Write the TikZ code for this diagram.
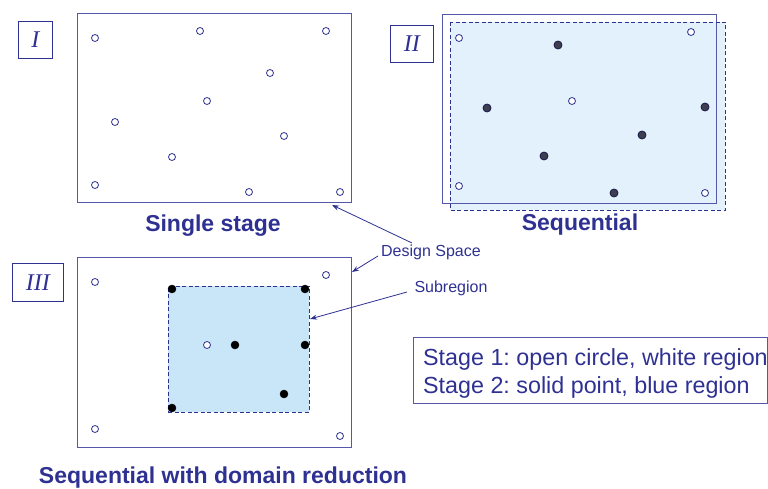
\documentclass[tikz,border=0pt]{standalone}
\usepackage{fontspec}
\setmainfont{Liberation Sans}
\newfontfamily\romfont{Liberation Serif}
\usetikzlibrary{arrows.meta}
\definecolor{ink}{HTML}{2E3192}
\definecolor{frame}{HTML}{5558A8}
\definecolor{seqfill}{HTML}{E2F1FB}
\definecolor{subfill}{HTML}{C8E6F8}
\definecolor{dotgray}{HTML}{3E3E50}
\frenchspacing
\tikzset{
  panel/.style={draw=frame, line width=1.3pt, inner sep=0pt, anchor=north west},
  tag/.style={draw=ink, line width=0.8pt, inner sep=0pt, anchor=north west, font=\romfont\itshape\fontsize{24}{24}\selectfont, text=ink},
  oc/.style={circle, draw=ink, line width=0.8pt, fill=white, inner sep=0pt, minimum size=7pt},
  gd/.style={circle, draw=ink!50!black, line width=0.8pt, fill=dotgray, inner sep=0pt, minimum size=8pt},
  bd/.style={circle, fill=black, draw=black, inner sep=0pt, minimum size=8pt},
  title/.style={text=ink, font=\bfseries\fontsize{23}{23}\selectfont},
  small/.style={text=ink, font=\fontsize{16}{16}\selectfont},
  ptr/.style={draw=ink, line width=0.8pt, -{Stealth[length=7pt,width=5pt]}},
  dashline/.style={draw=ink, line width=0.9pt, dash pattern=on 4pt off 2.5pt}
}
\begin{document}
\begin{tikzpicture}[x=1pt,y=-1pt]
\useasboundingbox (0,0) rectangle (768,489);
% ---------- Panel I ----------
\node[panel, minimum width=274pt, minimum height=189pt] (p1) at (77,13) {};
\node[tag, minimum width=34pt, minimum height=37pt] (t1) at (18,21) {I};
\node[oc] (a1) at (95,38) {};
\node[oc] (a2) at (200,31) {};
\node[oc] (a3) at (326,31) {};
\node[oc] (a4) at (270,73) {};
\node[oc] (a5) at (207,101) {};
\node[oc] (a6) at (115,122) {};
\node[oc] (a7) at (284,136) {};
\node[oc] (a8) at (172,157) {};
\node[oc] (a9) at (95,185) {};
\node[oc] (a10) at (249,192) {};
\node[oc] (a11) at (340,192) {};
\node[title] (n1) at (213,226) {Single stage};
% ---------- Panel II ----------
\fill[seqfill] (450,22) rectangle (725,210);
\node[panel, minimum width=274pt, minimum height=189pt] (p2) at (442,14) {};
\draw[dashline] (450,22) rectangle (725,210);
\node[tag, minimum width=43pt, minimum height=37pt] (t2) at (390,25) {II};
\node[oc] (b1) at (459,38) {};
\node[oc] (b2) at (691,32) {};
\node[oc] (b3) at (572,101) {};
\node[oc] (b4) at (459,186) {};
\node[oc] (b5) at (705,193) {};
\node[gd] (c1) at (558,45) {};
\node[gd] (c2) at (487,108) {};
\node[gd] (c3) at (705,107) {};
\node[gd] (c4) at (642,135) {};
\node[gd] (c5) at (544,156) {};
\node[gd] (c6) at (614,193) {};
\node[title] (n2) at (580,225) {Sequential};
% ---------- Panel III ----------
\node[panel, minimum width=274pt, minimum height=190pt] (p3) at (77,257) {};
\node[tag, minimum width=51pt, minimum height=38pt] (t3) at (12,263) {III};
\node[dashline, fill=subfill, inner sep=0pt, anchor=north west, minimum width=141pt, minimum height=126pt] (sr) at (168,286) {};
\node[oc] (d1) at (95,282) {};
\node[oc] (d2) at (326,275) {};
\node[oc] (d3) at (207,345) {};
\node[oc] (d4) at (95,429) {};
\node[oc] (d5) at (340,436) {};
\node[bd] (e1) at (172,289) {};
\node[bd] (e2) at (305,289) {};
\node[bd] (e3) at (235,345) {};
\node[bd] (e4) at (305,345) {};
\node[bd] (e5) at (284,394) {};
\node[bd] (e6) at (172,408) {};
\node[title] (n3) at (223,478) {Sequential with domain reduction};
% ---------- Labels and pointers ----------
\node[small] (ds) at (431,252) {Design Space};
\node[small] (sub) at (451,288) {Subregion};
\coordinate (ds1) at (412,243);
\coordinate (ds2) at (378,256);
\coordinate (dsI) at (332,205);
\coordinate (dsIII) at (352,272);
\coordinate (sub1) at (407,292);
\coordinate (subE) at (310,319);
\draw[ptr] (ds1) -- (dsI);
\draw[ptr] (ds2) -- (dsIII);
\draw[ptr] (sub1) -- (subE);
% ---------- Legend ----------
\node[draw=frame, line width=0.9pt, anchor=north west, minimum width=354pt, minimum height=66pt, inner sep=0pt] (lg) at (413,337) {};
\node[anchor=west, text=ink, font=\fontsize{23.3}{28}\selectfont, align=left, inner sep=0pt] (lt) at (423,373) {Stage 1: open circle, white region\\Stage 2: solid point, blue region};
\end{tikzpicture}
\end{document}
